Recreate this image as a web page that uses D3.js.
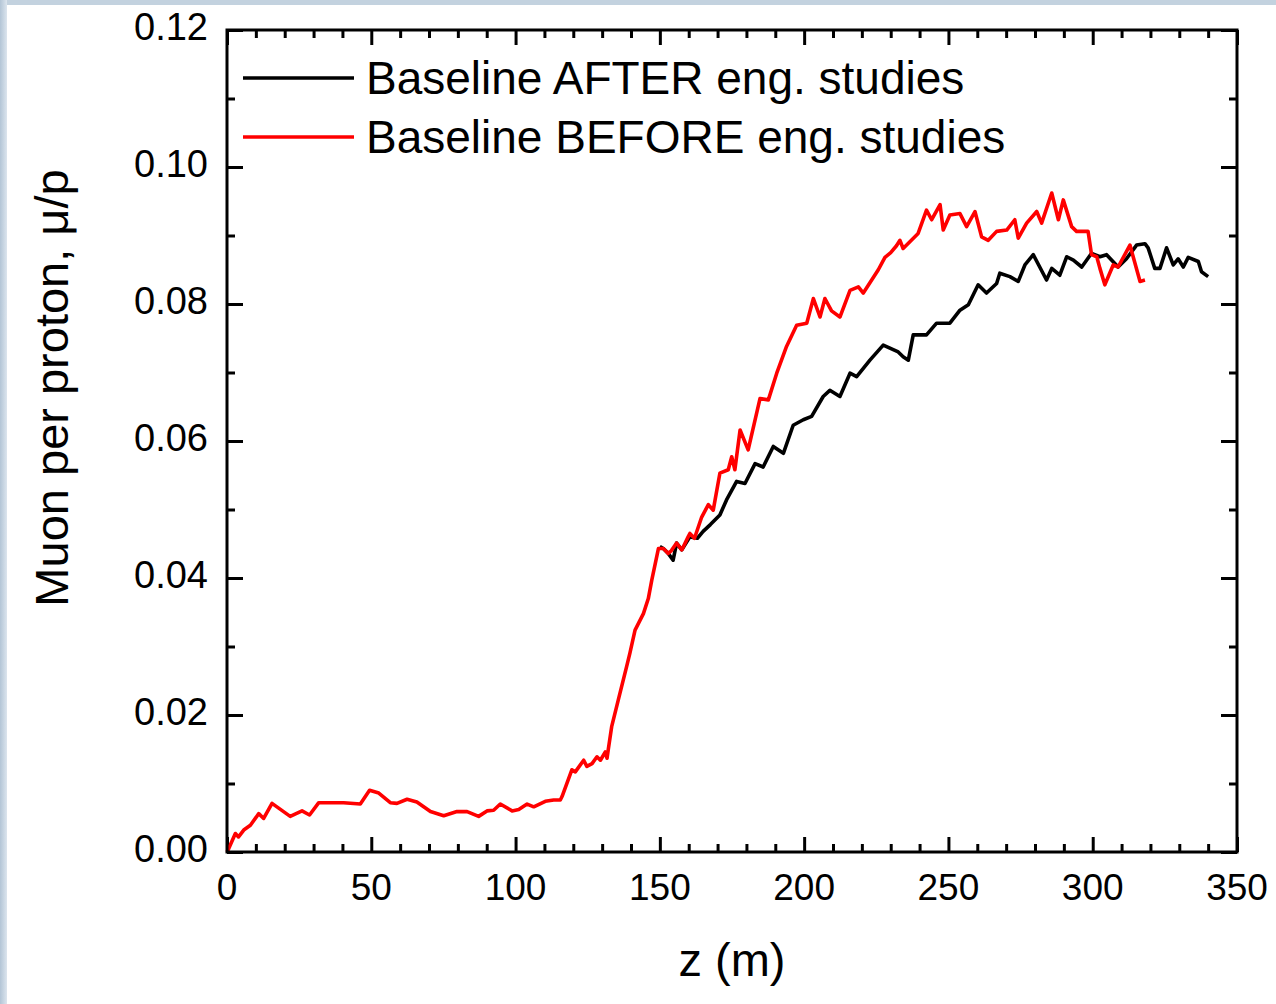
<!DOCTYPE html>
<html>
<head>
<meta charset="utf-8">
<script src="https://cdn.jsdelivr.net/npm/d3@7"></script>
<style>
  html, body { margin: 0; padding: 0; background: #fff; }
  svg { display: block; font-family: "Liberation Sans", Arial, sans-serif; }
</style>
</head>
<body>
<div id="chart"></div>
<script>
// Muon per proton vs z, two baselines

const xTicks = [0, 50, 100, 150, 200, 250, 300, 350];
const yTicks = [0.00, 0.02, 0.04, 0.06, 0.08, 0.10, 0.12];
const seriesNames = ["Baseline AFTER eng. studies", "Baseline BEFORE eng. studies"];

// BEFORE (red)
const redZ = [0, 0.6, 2.9, 4.0, 5.8, 8.1, 11.0, 12.7, 15.6, 21.9, 26.0, 28.6, 31.8, 40.4, 46.2, 49.4,
  52.6, 56.6, 58.9, 62.4, 65.8, 70.5, 75.1, 79.7, 83.2, 87.2, 90.1, 92.4, 94.7, 98.8, 101.1, 104.0,
  106.3, 110.3, 113.2, 115.5, 116.1, 119.5, 120.7, 123.6, 124.7, 126.5, 128.2, 129.4, 131.1, 131.7,
  132.1, 133.3, 135.6, 138.5, 139.6, 141.4, 144.3, 146.0, 147.2, 149.5, 151.2, 152.9, 154.0, 155.8,
  157.6, 159.8, 160.4, 162.0, 164.5, 166.8, 168.5, 170.8, 173.7, 174.9, 176.0, 177.8, 180.6, 184.7,
  187.6, 190.5, 193.9, 197.4, 200.9, 203.2, 205.5, 207.2, 209.5, 212.4, 215.9, 218.8, 220.5, 225.7,
  228.0, 230.0, 232.0, 233.2, 234.3, 239.5, 242.4, 244.2, 247.1, 248.2, 250.5, 254.0, 256.3, 259.2,
  261.5, 263.8, 266.7, 270.2, 273.0, 274.2, 277.1, 280.6, 282.3, 285.8, 288.1, 289.8, 292.7, 294.4,
  298.4, 299.6, 301.4, 302.5, 304.2, 307.1, 308.8, 312.9, 316.4, 318.1];
const redMu = [0.0000, 0.0005, 0.0027, 0.0022, 0.0032, 0.0039, 0.0056, 0.0049, 0.0071, 0.0052, 0.0060,
  0.0054, 0.0072, 0.0072, 0.0070, 0.0090, 0.0086, 0.0072, 0.0071, 0.0077, 0.0073, 0.0059, 0.0053,
  0.0059, 0.0059, 0.0052, 0.0060, 0.0061, 0.0070, 0.0060, 0.0062, 0.0070, 0.0066, 0.0074, 0.0076,
  0.0076, 0.0081, 0.0120, 0.0117, 0.0134, 0.0125, 0.0129, 0.0139, 0.0134, 0.0146, 0.0137, 0.0149,
  0.0183, 0.0222, 0.0271, 0.0290, 0.0324, 0.0348, 0.0370, 0.0397, 0.0443, 0.0443, 0.0436, 0.0440,
  0.0451, 0.0441, 0.0460, 0.0465, 0.0458, 0.0489, 0.0507, 0.0499, 0.0553, 0.0558, 0.0577, 0.0558,
  0.0616, 0.0587, 0.0662, 0.0660, 0.0699, 0.0738, 0.0769, 0.0772, 0.0808, 0.0781, 0.0808, 0.0790,
  0.0781, 0.0820, 0.0825, 0.0816, 0.0850, 0.0868, 0.0875, 0.0885, 0.0893, 0.0881, 0.0903, 0.0937,
  0.0923, 0.0945, 0.0908, 0.0930, 0.0932, 0.0913, 0.0935, 0.0898, 0.0893, 0.0906, 0.0908, 0.0923,
  0.0896, 0.0918, 0.0935, 0.0918, 0.0962, 0.0923, 0.0952, 0.0913, 0.0906, 0.0906, 0.0872, 0.0869,
  0.0852, 0.0828, 0.0857, 0.0854, 0.0886, 0.0833, 0.0835];

// AFTER (black) - same as red below 150 m
const blackZ = [150.0, 151.2, 152.9, 154.6, 155.8, 157.6, 160.4, 163.0, 165.0, 167.5, 170.8, 173.1,
  176.6, 179.5, 183.0, 185.8, 189.3, 192.8, 196.2, 199.7, 202.6, 206.6, 208.9, 212.4, 215.9, 218.2,
  222.8, 227.4, 232.6, 234.3, 236.1, 237.8, 242.4, 245.9, 250.5, 254.0, 256.9, 260.3, 263.2, 266.7,
  267.8, 271.3, 274.2, 276.5, 279.4, 284.0, 285.8, 288.6, 291.0, 293.3, 296.2, 299.6, 302.5, 304.8,
  308.8, 311.7, 315.2, 318.1, 319.2, 321.5, 323.3, 325.6, 327.9, 329.6, 331.4, 333.1, 336.6, 337.7, 340.0];
const blackMu = [0.0446, 0.0443, 0.0436, 0.0426, 0.0451, 0.0441, 0.0460, 0.0458, 0.0468, 0.0478,
  0.0492, 0.0514, 0.0541, 0.0538, 0.0567, 0.0562, 0.0592, 0.0582, 0.0623, 0.0631, 0.0636, 0.0665,
  0.0674, 0.0665, 0.0699, 0.0694, 0.0718, 0.0740, 0.0730, 0.0723, 0.0718, 0.0755, 0.0755, 0.0772,
  0.0772, 0.0791, 0.0799, 0.0828, 0.0816, 0.0830, 0.0845, 0.0840, 0.0833, 0.0857, 0.0872, 0.0835,
  0.0852, 0.0842, 0.0869, 0.0864, 0.0854, 0.0874, 0.0869, 0.0872, 0.0854, 0.0866, 0.0886, 0.0888,
  0.0882, 0.0852, 0.0852, 0.0882, 0.0857, 0.0866, 0.0854, 0.0868, 0.0862, 0.0847, 0.0840];

const w = 1276;
const h = 1004;
const margin = { top: 30, right: 39, bottom: 152, left: 227 };

const svg = d3.select("#chart")
    .append("svg")
    .attr("width", w)
    .attr("height", h);

// slide border (light blue strips top and left)
const defs = svg.append("defs");
const grad = defs.append("linearGradient").attr("id", "edge").attr("x1", 0).attr("x2", 1);
grad.append("stop").attr("offset", 0).attr("stop-color", "#b3c5d6");
grad.append("stop").attr("offset", 1).attr("stop-color", "#dce5ee");
svg.append("rect").attr("x", 0).attr("y", 0).attr("width", w).attr("height", 5).attr("fill", "#c3d2df");
svg.append("rect").attr("x", 0).attr("y", 0).attr("width", 7).attr("height", h).attr("fill", "url(#edge)");

const x = d3.scaleLinear()
    .domain([0, 350])
    .range([margin.left, w - margin.right]);

const y = d3.scaleLinear()
    .domain([0, 0.12])
    .range([h - margin.bottom, margin.top]);

const x0 = x.range()[0], x1 = x.range()[1];
const y0 = y.range()[0], y1 = y.range()[1];

const xMinor = d3.range(0, 351, 10).filter(v => v % 50 !== 0);
const yMinor = [0.01, 0.03, 0.05, 0.07, 0.09, 0.11];

// inward ticks on all four sides
function tickAxis(axis, vals, size, tx, ty) {
    const g = svg.append("g")
        .attr("transform", `translate(${tx},${ty})`)
        .call(axis.tickValues(vals).tickSize(size).tickSizeOuter(0).tickFormat(""));
    g.select(".domain").remove();
    g.selectAll("line").attr("stroke", "#000").attr("stroke-width", 3);
}
tickAxis(d3.axisBottom(x), xTicks, -15, 0, y0);
tickAxis(d3.axisBottom(x), xMinor, -8, 0, y0);
tickAxis(d3.axisTop(x), xTicks, -15, 0, y1);
tickAxis(d3.axisTop(x), xMinor, -8, 0, y1);
tickAxis(d3.axisLeft(y), yTicks, -16, x0, 0);
tickAxis(d3.axisLeft(y), yMinor, -8, x0, 0);
tickAxis(d3.axisRight(y), yTicks, -16, x1, 0);
tickAxis(d3.axisRight(y), yMinor, -8, x1, 0);

// tick labels
svg.append("g")
    .selectAll("text")
    .data(xTicks)
    .enter()
    .append("text")
    .attr("x", d => x(d))
    .attr("y", y0 + 48)
    .attr("text-anchor", "middle")
    .style("font-size", "37px")
    .text(d => d);

svg.append("g")
    .selectAll("text")
    .data(yTicks)
    .enter()
    .append("text")
    .attr("x", x0 - 19)
    .attr("y", d => y(d) + 10)
    .attr("text-anchor", "end")
    .style("font-size", "38px")
    .text(d => d3.format(".2f")(d));

// series
const line = d3.line()
    .x(d => x(d[0]))
    .y(d => y(d[1]));

const blackData = blackZ.map((z, i) => [z, blackMu[i]]);
const redData = redZ.map((z, i) => [z, redMu[i]]);

svg.append("path")
    .datum(blackData)
    .attr("d", line)
    .attr("fill", "none")
    .attr("stroke", "#000")
    .attr("stroke-width", 3.6)
    .attr("stroke-linejoin", "round");

svg.append("path")
    .datum(redData)
    .attr("d", line)
    .attr("fill", "none")
    .attr("stroke", "#ff0000")
    .attr("stroke-width", 3.6)
    .attr("stroke-linejoin", "round");

// frame
svg.append("rect")
    .attr("x", x0)
    .attr("y", y1)
    .attr("width", x1 - x0)
    .attr("height", y0 - y1)
    .attr("fill", "none")
    .attr("stroke", "#000")
    .attr("stroke-width", 3);

// legend
const legend = svg.append("g");
const legendColors = ["#000", "#ff0000"];
seriesNames.forEach((name, i) => {
    const ly = 78 + i * 59;
    legend.append("line")
        .attr("x1", 243).attr("x2", 354)
        .attr("y1", ly).attr("y2", ly)
        .attr("stroke", legendColors[i])
        .attr("stroke-width", 3.6);
    legend.append("text")
        .attr("x", 366)
        .attr("y", ly + 16)
        .style("font-size", "46px")
        .text(name);
});

// axis titles
svg.append("text")
    .attr("x", (x0 + x1) / 2)
    .attr("y", 976)
    .attr("text-anchor", "middle")
    .style("font-size", "47px")
    .text("z (m)");

svg.append("text")
    .attr("transform", "translate(68,388) rotate(-90)")
    .attr("text-anchor", "middle")
    .style("font-size", "47px")
    .text("Muon per proton, μ/p");
</script>
</body>
</html>
